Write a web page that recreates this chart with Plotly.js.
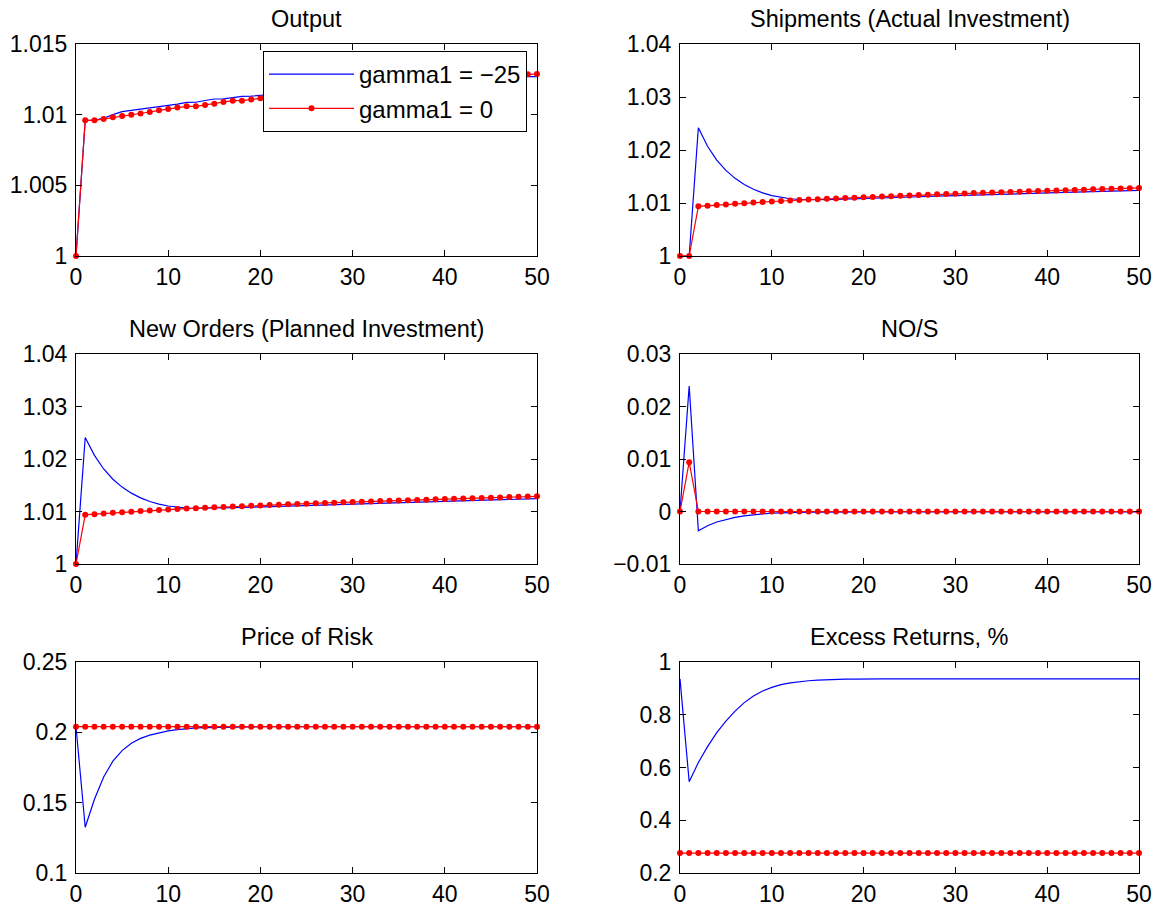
<!DOCTYPE html>
<html><head><meta charset="utf-8">
<script src="https://cdn.plot.ly/plotly-3.0.1.min.js"></script>
<style>html,body{margin:0;padding:0;background:#fff}#chart{width:1159px;height:909px}</style>
</head><body><div id="chart"></div>
<script>
// ---------- DATA ----------
const periods = [0,1,2,3,4,5,6,7,8,9,10,11,12,13,14,15,16,17,18,19,20,21,22,23,24,25,26,27,28,29,30,31,32,33,34,35,36,37,38,39,40,41,42,43,44,45,46,47,48,49,50];
const seriesNames = ['gamma1 = \u221225', 'gamma1 = 0'];
const panelTitles = ['Output', 'Shipments (Actual Investment)', 'New Orders (Planned Investment)', 'NO/S', 'Price of Risk', 'Excess Returns, %'];

const outputBlue = [1.00000,1.00960,1.00960,1.00975,1.01000,1.01022,1.01030,1.01038,1.01046,1.01054,
  1.01062,1.01075,1.01087,1.01088,1.01100,1.01111,1.01112,1.01121,1.01130,1.01131,
  1.01137,1.01142,1.01147,1.01152,1.01157,1.01162,1.01167,1.01171,1.01175,1.01180,
  1.01184,1.01188,1.01192,1.01196,1.01200,1.01204,1.01208,1.01212,1.01216,1.01220,
  1.01224,1.01228,1.01232,1.01236,1.01240,1.01244,1.01250,1.01256,1.01262,1.01269,1.01269];
const outputRed = [1.00000,1.00960,1.00960,1.00969,1.00981,1.00991,1.01000,1.01009,1.01019,1.01031,
  1.01040,1.01050,1.01059,1.01059,1.01068,1.01078,1.01090,1.01099,1.01099,1.01108,
  1.01116,1.01124,1.01131,1.01138,1.01145,1.01152,1.01159,1.01166,1.01172,1.01178,
  1.01184,1.01190,1.01196,1.01202,1.01207,1.01212,1.01217,1.01222,1.01227,1.01232,
  1.01237,1.01242,1.01247,1.01251,1.01256,1.01261,1.01266,1.01271,1.01277,1.01286,1.01288];

const shipBlue = [1.00000,1.00000,1.02420,1.02070,1.01810,1.01615,1.01465,1.01350,1.01260,1.01190,
  1.01140,1.01105,1.01080,1.01066,1.01062,1.01062,1.01065,1.01068,1.01072,1.01077,
  1.01082,1.01088,1.01094,1.01100,1.01106,1.01112,1.01118,1.01124,1.01130,1.01135,
  1.01140,1.01145,1.01150,1.01155,1.01160,1.01165,1.01170,1.01175,1.01180,1.01185,
  1.01190,1.01195,1.01200,1.01205,1.01210,1.01215,1.01220,1.01225,1.01230,1.01235,1.01240];
const shipRed = [1.00000,1.00000,1.00937,1.00950,1.00962,1.00974,1.00986,1.00997,1.01008,1.01018,
  1.01028,1.01038,1.01047,1.01056,1.01064,1.01072,1.01080,1.01087,1.01094,1.01101,
  1.01108,1.01115,1.01122,1.01129,1.01136,1.01143,1.01150,1.01157,1.01163,1.01169,
  1.01175,1.01181,1.01187,1.01192,1.01198,1.01203,1.01209,1.01214,1.01220,1.01225,
  1.01231,1.01236,1.01242,1.01247,1.01252,1.01258,1.01263,1.01268,1.01274,1.01279,1.01284];

const ordersBlue = [1.00000,1.02410,1.02070,1.01810,1.01615,1.01465,1.01350,1.01260,1.01190,1.01140,
  1.01105,1.01080,1.01066,1.01062,1.01062,1.01065,1.01068,1.01072,1.01077,1.01082,
  1.01088,1.01094,1.01100,1.01106,1.01112,1.01118,1.01124,1.01130,1.01135,1.01140,
  1.01145,1.01150,1.01155,1.01160,1.01165,1.01170,1.01175,1.01180,1.01185,1.01190,
  1.01195,1.01200,1.01205,1.01210,1.01215,1.01220,1.01225,1.01230,1.01235,1.01240,1.01245];
const ordersRed = [1.00000,1.00937,1.00950,1.00962,1.00974,1.00986,1.00997,1.01008,1.01018,1.01028,
  1.01038,1.01047,1.01056,1.01064,1.01072,1.01080,1.01087,1.01094,1.01101,1.01108,
  1.01115,1.01122,1.01129,1.01136,1.01143,1.01150,1.01157,1.01163,1.01169,1.01175,
  1.01181,1.01187,1.01192,1.01198,1.01203,1.01209,1.01214,1.01220,1.01225,1.01231,
  1.01236,1.01242,1.01247,1.01252,1.01258,1.01263,1.01268,1.01274,1.01279,1.01284,1.01289];

const nosBlue = [0,0.0239,-0.00367,-0.0027,-0.0020,-0.0015,-0.00112,-0.00082,-0.0006,-0.00044,
  -0.00032,-0.00024,-0.00018,-0.00015,-0.00013,-0.00012,-0.0001,-0.0001,-0.0001,-0.0001,
  -0.0001,-0.0001,-0.0001,-0.0001,-0.0001,-0.0001,-0.0001,-0.0001,-0.0001,-0.0001,
  -0.0001,-0.0001,-0.0001,-0.0001,-0.0001,-0.0001,-0.0001,-0.0001,-0.0001,-0.0001,
  -0.0001,-0.0001,-0.0001,-0.0001,-0.0001,-0.0001,-0.0001,-0.0001,-0.0001,-0.0001,-0.0001];
const nosRed = [0,0.0094,0,0,0,0,0,0,0,0,
  0,0,0,0,0,0,0,0,0,0,
  0,0,0,0,0,0,0,0,0,0,
  0,0,0,0,0,0,0,0,0,0,
  0,0,0,0,0,0,0,0,0,0,0];

const riskBlue = [0.2040,0.1325,0.1524,0.1683,0.1795,0.1870,0.1922,0.1957,0.1980,0.1997,
  0.2010,0.2019,0.2026,0.2031,0.2034,0.2036,0.2037,0.2038,0.2039,0.2039,
  0.2040,0.2040,0.2040,0.2040,0.2040,0.2040,0.2040,0.2040,0.2040,0.2040,
  0.2040,0.2040,0.2040,0.2040,0.2040,0.2040,0.2040,0.2040,0.2040,0.2040,
  0.2040,0.2040,0.2040,0.2040,0.2040,0.2040,0.2040,0.2040,0.2040,0.2040,0.2040];
const riskRed = [0.2040,0.2040,0.2040,0.2040,0.2040,0.2040,0.2040,0.2040,0.2040,0.2040,
  0.2040,0.2040,0.2040,0.2040,0.2040,0.2040,0.2040,0.2040,0.2040,0.2040,
  0.2040,0.2040,0.2040,0.2040,0.2040,0.2040,0.2040,0.2040,0.2040,0.2040,
  0.2040,0.2040,0.2040,0.2040,0.2040,0.2040,0.2040,0.2040,0.2040,0.2040,
  0.2040,0.2040,0.2040,0.2040,0.2040,0.2040,0.2040,0.2040,0.2040,0.2040,0.2040];

const excessBlue = [0.936,0.546,0.619,0.679,0.732,0.776,0.814,0.846,0.871,0.890,
  0.904,0.914,0.921,0.926,0.929,0.931,0.933,0.934,0.935,0.935,
  0.936,0.936,0.936,0.936,0.936,0.936,0.936,0.936,0.936,0.936,
  0.936,0.936,0.936,0.936,0.936,0.936,0.936,0.936,0.936,0.936,
  0.936,0.936,0.936,0.936,0.936,0.936,0.936,0.936,0.936,0.936,0.936];
const excessRed = [0.2756,0.2756,0.2756,0.2756,0.2756,0.2756,0.2756,0.2756,0.2756,0.2756,
  0.2756,0.2756,0.2756,0.2756,0.2756,0.2756,0.2756,0.2756,0.2756,0.2756,
  0.2756,0.2756,0.2756,0.2756,0.2756,0.2756,0.2756,0.2756,0.2756,0.2756,
  0.2756,0.2756,0.2756,0.2756,0.2756,0.2756,0.2756,0.2756,0.2756,0.2756,
  0.2756,0.2756,0.2756,0.2756,0.2756,0.2756,0.2756,0.2756,0.2756,0.2756,0.2756];

// tick labels
const xTickVals = [0,10,20,30,40,50];
const xTickText = ['0','10','20','30','40','50'];
const outputTickVals = [1,1.005,1.01,1.015];
const outputTickText = ['1','1.005','1.01','1.015'];
const invTickVals = [1,1.01,1.02,1.03,1.04];
const invTickText = ['1','1.01','1.02','1.03','1.04'];
const nosTickVals = [-0.01,0,0.01,0.02,0.03];
const nosTickText = ['\u22120.01','0','0.01','0.02','0.03'];
const riskTickVals = [0.1,0.15,0.2,0.25];
const riskTickText = ['0.1','0.15','0.2','0.25'];
const excessTickVals = [0.2,0.4,0.6,0.8,1];
const excessTickText = ['0.2','0.4','0.6','0.8','1'];

// ---------- LAYOUT ----------
const W = 1159, H = 909;
const colPx = [[76,537],[680,1139]];
const rowPx = [[44,256],[354,564],[662,873]];
const FONT = 'Liberation Sans, Arial, Helvetica, sans-serif';

const panels = [
  {blue: outputBlue, red: outputRed, tv: outputTickVals, tt: outputTickText, range:[1,1.015], col:0, row:0},
  {blue: shipBlue, red: shipRed, tv: invTickVals, tt: invTickText, range:[1,1.04], col:1, row:0},
  {blue: ordersBlue, red: ordersRed, tv: invTickVals, tt: invTickText, range:[1,1.04], col:0, row:1},
  {blue: nosBlue, red: nosRed, tv: nosTickVals, tt: nosTickText, range:[-0.01,0.03], col:1, row:1},
  {blue: riskBlue, red: riskRed, tv: riskTickVals, tt: riskTickText, range:[0.1,0.25], col:0, row:2},
  {blue: excessBlue, red: excessRed, tv: excessTickVals, tt: excessTickText, range:[0.2,1], col:1, row:2}
];

const traces = [];
const layout = {
  width: W, height: H,
  margin: {l:0, r:0, t:0, b:0, pad:0},
  paper_bgcolor: '#ffffff', plot_bgcolor: '#ffffff',
  font: {family: FONT, size: 23, color: '#000'},
  showlegend: true,
  legend: {
    x: 263/W, y: 1 - 51/H, xanchor: 'left', yanchor: 'top',
    bgcolor: '#ffffff', bordercolor: '#000000', borderwidth: 1,
    font: {family: FONT, size: 24, color: '#000'},
    itemwidth: 85, tracegroupgap: 0
  },
  annotations: []
};

function baseAxis() {
  return {
    showline: true, mirror: 'ticks', linecolor: '#000', linewidth: 1,
    ticks: 'inside', ticklen: 6, tickwidth: 1, tickcolor: '#000',
    showgrid: false, zeroline: false, fixedrange: true,
    tickfont: {family: FONT, size: 23, color: '#000'},
    tickmode: 'array'
  };
}

panels.forEach((p, i) => {
  const n = i + 1;
  const xa = 'x' + (n === 1 ? '' : n), ya = 'y' + (n === 1 ? '' : n);
  const xd = [colPx[p.col][0] / W, colPx[p.col][1] / W];
  const yd = [1 - rowPx[p.row][1] / H, 1 - rowPx[p.row][0] / H];
  const xKey = 'xaxis' + (n === 1 ? '' : n), yKey = 'yaxis' + (n === 1 ? '' : n);
  layout[xKey] = Object.assign(baseAxis(), {domain: xd, anchor: ya, range: [0, 50], tickvals: xTickVals, ticktext: xTickText});
  layout[yKey] = Object.assign(baseAxis(), {domain: yd, anchor: xa, range: p.range, tickvals: p.tv, ticktext: p.tt, ticklabelstandoff: 3});

  traces.push({
    x: periods, y: p.blue, xaxis: xa, yaxis: ya, type: 'scatter', mode: 'lines',
    name: seriesNames[0], showlegend: i === 0, cliponaxis: false,
    line: {color: '#0000ff', width: 1.2}
  });
  traces.push({
    x: periods, y: p.red, xaxis: xa, yaxis: ya, type: 'scatter', mode: 'lines+markers',
    name: seriesNames[1], showlegend: i === 0, cliponaxis: false,
    line: {color: '#ff0000', width: 1.2},
    marker: {color: '#ff0000', size: 6, symbol: 'circle'}
  });

  layout.annotations.push({
    text: panelTitles[i], xref: 'paper', yref: 'paper',
    x: (xd[0] + xd[1]) / 2, y: yd[1], xanchor: 'center', yanchor: 'bottom',
    yshift: 10, showarrow: false,
    font: {family: FONT, size: 23.5, color: '#000'}
  });
});

Plotly.newPlot('chart', traces, layout, {staticPlot: true, displayModeBar: false});
</script>
</body></html>
